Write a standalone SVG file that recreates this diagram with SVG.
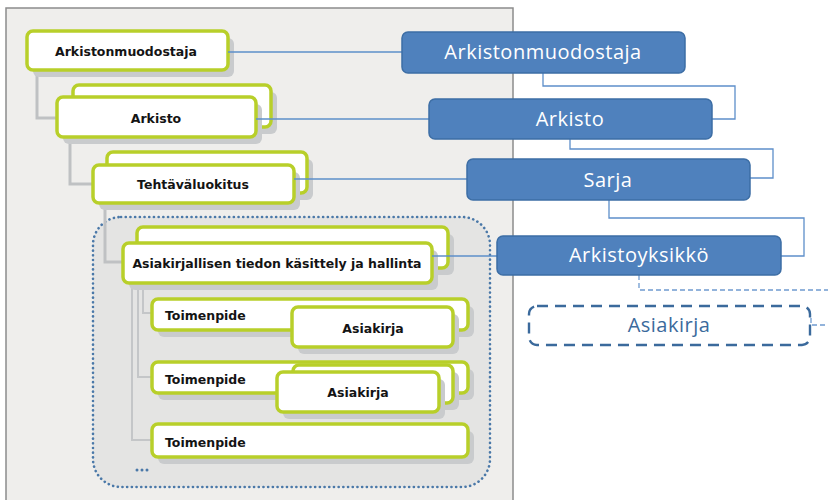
<svg xmlns="http://www.w3.org/2000/svg" width="828" height="500" viewBox="0 0 828 500">
  <style>
    .panel { fill: #efeeec; stroke: #8c8c8c; stroke-width: 1.5; }
    .group { fill: #e4e4e3; stroke: #4a78a8; stroke-width: 2.6; stroke-dasharray: 0.1 4.6; stroke-linecap: round; }
    .tree { fill: none; stroke: #bfc1c3; stroke-width: 3; }
    .tree2 { fill: none; stroke: #c4c6c8; stroke-width: 2; }
    .sh { fill: #c9cbcd; }
    .box { fill: #ffffff; stroke: #b8cf2a; stroke-width: 3.5; }
    .gt { font-family: "DejaVu Sans", sans-serif; font-weight: bold; font-size: 12.5px; fill: #141414; }
    .mid { text-anchor: middle; }
    .blue { fill: #4f81bd; stroke: #3d6ea5; stroke-width: 1.5; }
    .bt { font-family: "Open Sans", "Noto Sans", sans-serif; font-size: 20px; letter-spacing: 0.5px; fill: #ffffff; text-anchor: middle; }
    .link { fill: none; stroke: #5d8fca; stroke-width: 1.3; }
    .dlink { fill: none; stroke: #6f9bd0; stroke-width: 1.3; stroke-dasharray: 5 3; }
    .dbox { fill: #ffffff; stroke: #3b6a9c; stroke-width: 2.4; stroke-dasharray: 11 7; }
    .dt { font-family: "Open Sans", "Noto Sans", sans-serif; font-size: 20px; letter-spacing: 0.5px; fill: #3b6a9c; text-anchor: middle; }
  </style>

  <!-- grey backdrop panel for the functional classification tree -->
  <rect class="panel" x="6" y="8" width="507" height="510"/>

  <!-- dotted grouping around the process level -->
  <rect class="group" x="93" y="217" width="397" height="270" rx="28"/>
  <g id="ellipsis" fill="#4a78a8">
    <circle cx="137" cy="470" r="1.5"/>
    <circle cx="142" cy="470" r="1.5"/>
    <circle cx="147" cy="470" r="1.5"/>
  </g>

  <!-- tree connectors -->
  <g id="tree-lines">
    <path class="tree" d="M37 70 V118 H57"/>
    <path class="tree" d="M70 137 V184 H93"/>
    <path class="tree" d="M105 203 V262 H123"/>
    <path class="tree2" d="M132 283 V440 H152"/>
    <path class="tree2" d="M138 283 V377 H152"/>
    <path class="tree2" d="M143 283 V313 H152"/>
  </g>

  <!-- left tree nodes -->
  <g id="g-arkistonmuodostaja">
    <rect class="sh" x="33" y="38" width="201" height="39" rx="6"/>
    <rect class="box" x="27" y="31" width="201" height="39" rx="6"/>
    <text class="gt mid" x="126" y="56">Arkistonmuodostaja</text>
  </g>
  <g id="g-arkisto">
    <rect class="sh" x="79" y="92" width="198" height="42" rx="6"/>
    <rect class="box" x="73" y="85" width="198" height="42" rx="6"/>
    <rect class="sh" x="63" y="104" width="199" height="40" rx="6"/>
    <rect class="box" x="57" y="97" width="199" height="40" rx="6"/>
    <text class="gt mid" x="156" y="123">Arkisto</text>
  </g>
  <g id="g-tehtavaluokitus">
    <rect class="sh" x="113" y="159" width="200" height="41" rx="6"/>
    <rect class="box" x="107" y="152" width="200" height="41" rx="6"/>
    <rect class="sh" x="99" y="172" width="201" height="38" rx="6"/>
    <rect class="box" x="93" y="165" width="201" height="38" rx="6"/>
    <text class="gt mid" x="193" y="189">Tehtäväluokitus</text>
  </g>
  <g id="g-kasittely">
    <rect class="sh" x="143" y="234" width="311" height="41" rx="6"/>
    <rect class="box" x="137" y="227" width="311" height="41" rx="6"/>
    <rect class="sh" x="129" y="250" width="309" height="40" rx="6"/>
    <rect class="box" x="123" y="243" width="309" height="40" rx="6"/>
    <text class="gt mid" x="277" y="268">Asiakirjallisen tiedon käsittely ja hallinta</text>
  </g>
  <g id="g-toimenpide-1">
    <rect class="sh" x="158" y="306" width="316" height="31" rx="6"/>
    <rect class="box" x="152" y="299" width="316" height="31" rx="6"/>
    <text class="gt" x="165" y="320">Toimenpide</text>
  </g>
  <g id="g-asiakirja-1">
    <rect class="sh" x="298" y="314" width="161" height="40" rx="6"/>
    <rect class="box" x="292" y="307" width="161" height="40" rx="6"/>
    <text class="gt mid" x="373" y="333">Asiakirja</text>
  </g>
  <g id="g-toimenpide-2">
    <rect class="sh" x="158" y="369" width="316" height="31" rx="6"/>
    <rect class="box" x="152" y="362" width="316" height="31" rx="6"/>
    <text class="gt" x="165" y="384">Toimenpide</text>
  </g>
  <g id="g-asiakirja-2">
    <rect class="sh" x="299" y="372" width="160" height="38" rx="6"/>
    <rect class="box" x="293" y="365" width="160" height="38" rx="6"/>
    <rect class="sh" x="283" y="379" width="162" height="40" rx="6"/>
    <rect class="box" x="277" y="372" width="162" height="40" rx="6"/>
    <text class="gt mid" x="358" y="397">Asiakirja</text>
  </g>
  <g id="g-toimenpide-3">
    <rect class="sh" x="158" y="431" width="316" height="33" rx="6"/>
    <rect class="box" x="152" y="424" width="316" height="33" rx="6"/>
    <text class="gt" x="165" y="447">Toimenpide</text>
  </g>

  <!-- connectors between the tree and the archive levels -->
  <g id="connectors">
    <path class="link" d="M228 52 H402"/>
    <path class="link" d="M543 73 V86 H735 V119 H712"/>
    <path class="link" d="M256 119 H429"/>
    <path class="link" d="M570 139 V149 H773 V178 H750"/>
    <path class="link" d="M294 179 H467"/>
    <path class="link" d="M609 200 V218 H804 V256 H781"/>
    <path class="link" d="M432 256 H497"/>
    <path class="dlink" d="M639 275 V290 H828"/>
    <path class="dlink" d="M811 318 V325 H828"/>
  </g>

  <!-- archive hierarchy levels -->
  <g id="b-arkistonmuodostaja">
    <rect class="blue" x="402" y="32" width="283" height="41" rx="6"/>
    <text class="bt" x="543" y="59">Arkistonmuodostaja</text>
  </g>
  <g id="b-arkisto">
    <rect class="blue" x="429" y="99" width="283" height="40" rx="6"/>
    <text class="bt" x="570" y="126">Arkisto</text>
  </g>
  <g id="b-sarja">
    <rect class="blue" x="467" y="159" width="283" height="41" rx="6"/>
    <text class="bt" x="608" y="187">Sarja</text>
  </g>
  <g id="b-arkistoyksikko">
    <rect class="blue" x="497" y="236" width="284" height="39" rx="6"/>
    <text class="bt" x="639" y="262">Arkistoyksikkö</text>
  </g>
  <g id="b-asiakirja">
    <rect class="dbox" x="529" y="306" width="281" height="39" rx="8"/>
    <text class="dt" x="669" y="332">Asiakirja</text>
  </g>
</svg>
